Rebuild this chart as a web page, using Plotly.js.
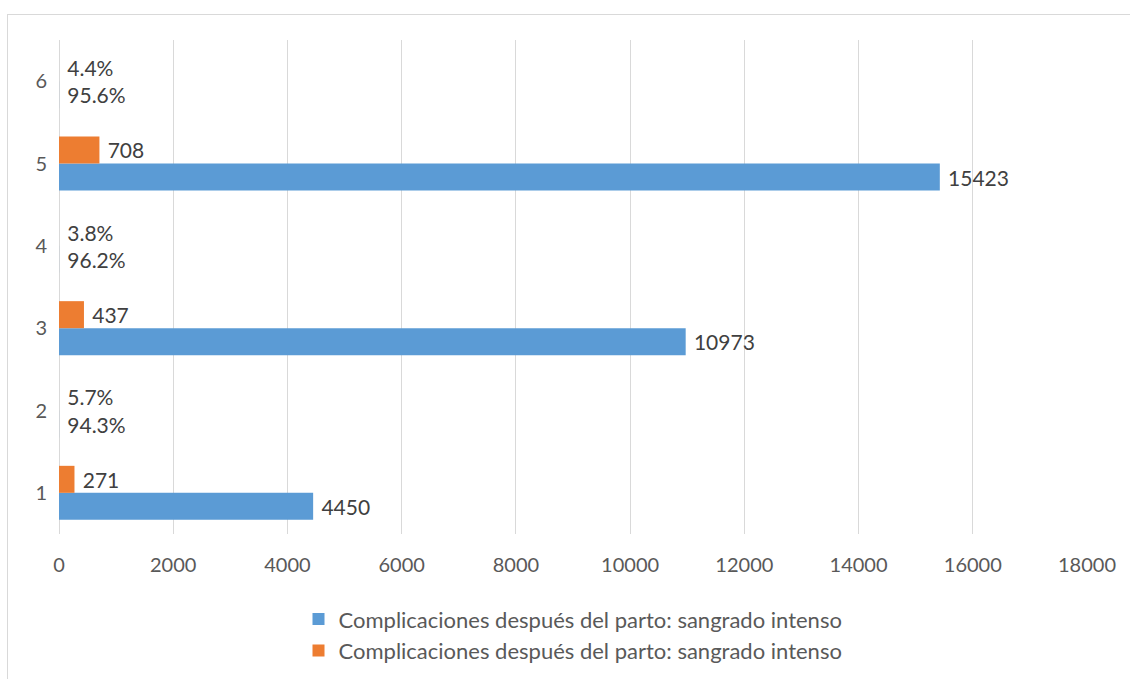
<!DOCTYPE html>
<html>
<head>
<meta charset="utf-8">
<script src="https://cdn.plot.ly/plotly-3.0.1.min.js"></script>
<style>
  html, body { margin: 0; padding: 0; background: #ffffff; }
  #wrap { position: relative; width: 1130px; height: 679px; overflow: hidden; }
  #frame { position: absolute; left: 7px; top: 14px; width: 1130px; height: 700px;
           border-top: 1px solid #d9d9d9; border-left: 1px solid #d9d9d9; pointer-events: none; }
  #chart { position: absolute; left: 0; top: 0; width: 1130px; height: 679px; }
</style>
</head>
<body>
<div id="wrap">
  <div id="chart"></div>
  <div id="frame"></div>
</div>
<script>
const categories = ["1", "2", "3", "4", "5", "6"];
const seriesName = "Complicaciones después del parto: sangrado intenso";
const blueValues = [4450, 0.943, 10973, 0.962, 15423, 0.956];
const orangeValues = [271, 0.057, 437, 0.038, 708, 0.044];
const blueLabels = ["4450", "94.3%", "10973", "96.2%", "15423", "95.6%"];
const orangeLabels = ["271", "5.7%", "437", "3.8%", "708", "4.4%"];
const xTicks = [0, 2000, 4000, 6000, 8000, 10000, 12000, 14000, 16000, 18000];

const fontFamily = "Lato, 'Open Sans', sans-serif";
const FS = 20;
const labelFont = { family: fontFamily, size: 21, color: "#404040" };

const pad = s => s.map(t => "\u2005" + t);

const traces = [
  {
    type: "bar", orientation: "h", name: seriesName,
    y: categories, x: blueValues, text: pad(blueLabels),
    textposition: "outside", textfont: labelFont, constraintext: "none",
    cliponaxis: false, hoverinfo: "skip",
    marker: { color: "#5b9bd5" }
  },
  {
    type: "bar", orientation: "h", name: seriesName,
    y: categories, x: orangeValues, text: pad(orangeLabels),
    textposition: "outside", textfont: labelFont, constraintext: "none",
    cliponaxis: false, hoverinfo: "skip",
    marker: { color: "#ed7d31" }
  }
];

const layout = {
  width: 1130, height: 679,
  margin: { l: 59, r: 43, t: 40, b: 145, autoexpand: false },
  paper_bgcolor: "rgba(0,0,0,0)", plot_bgcolor: "rgba(0,0,0,0)",
  barmode: "group", bargap: 0.344, bargroupgap: 0,
  font: { family: fontFamily, size: FS, color: "#595959" },
  xaxis: {
    range: [0, 18000], tickvals: xTicks, ticktext: xTicks.map(String),
    showgrid: true, gridcolor: "#d9d9d9", gridwidth: 1,
    zeroline: true, zerolinecolor: "#d9d9d9", showline: false,
    ticks: "", ticklabelstandoff: 17,
    tickfont: { family: fontFamily, size: FS, color: "#595959" },
    fixedrange: true
  },
  yaxis: {
    type: "category", categoryorder: "array", categoryarray: categories,
    showgrid: false, zeroline: false, showline: false, ticks: "",
    ticklabelstandoff: 11,
    tickfont: { family: fontFamily, size: FS, color: "#595959" },
    fixedrange: true
  },
  showlegend: true,
  legend: {
    orientation: "v", x: 0.5, xanchor: "center",
    yref: "container", y: 0.119, yanchor: "top",
    traceorder: "normal", font: { family: fontFamily, size: 22, color: "#595959" },
    itemwidth: 30, tracegroupgap: 0
  }
};

Plotly.newPlot("chart", traces, layout, { displayModeBar: false, staticPlot: true });
</script>
</body>
</html>
